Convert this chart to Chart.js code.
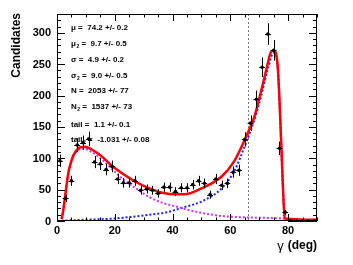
<!DOCTYPE html>
<html>
<head>
<meta charset="utf-8">
<script src="https://cdn.jsdelivr.net/npm/chart.js@4/dist/chart.umd.min.js"></script>
<style>
  html, body { margin: 0; padding: 0; background: #fff; }
  #plot { display: block; }
</style>
</head>
<body>
<canvas id="plot" width="353" height="265"></canvas>
<script>
// histogram bins (bin width 2 deg)
const binCenters = [1, 3, 5, 7, 9, 11, 13, 15, 17, 19, 21, 23, 25, 27, 29, 31, 33, 35, 37, 39, 41, 43, 45,
  47, 49, 51, 53, 55, 57, 59, 61, 63, 65, 67, 69, 71, 73, 75, 77, 79, 81, 83, 85, 87, 89];
const counts = [96, 36, 64, 121, 125, 131, 94, 91, 82, 87, 67, 61, 61, 64, 49, 51, 49, 44, 54, 54, 47, 53, 53,
  58, 64, 60, 42, 67, 57, 60, 78, 81, 130, 156, 194, 245, 298, 272, 116, 14, 0, 0, 0, 0, 0];

// fit curves
const totalX = [1.6, 2, 2.8, 3.9, 4.8, 5.7, 7.4, 9.5, 12, 15.5, 19, 22.5, 27, 32, 36.5, 41, 44, 50, 57,
  61.3, 65.4, 68.3, 70.6, 72.7, 74.1, 75, 76.4, 77.3, 78.2, 78.8, 90];
const totalY = [3, 12, 39, 76, 93, 105, 116, 118.5, 114, 103, 88, 76, 63, 52, 45, 42.5, 42.5, 52, 71,
  95, 134, 166, 206, 246, 270, 272, 246, 161, 55, 4, 2];
const lowX = [1.6, 2.8, 3.9, 5.7, 7.4, 9.5, 12, 15.5, 19, 22.5, 27, 32, 36.5, 42, 46, 50, 57, 64, 72, 79];
const lowY = [3, 38, 75, 103, 113, 115, 110, 98, 83, 68, 53, 38, 29, 22, 17, 13, 8, 6, 5, 4];
const peakX = [1.6, 10, 20, 32, 38, 44, 50, 57, 61.3, 65.4, 68.3, 70.6, 72.9, 74.7, 75.3, 76.4, 77.3, 78.2, 78.8];
const peakY = [0.5, 2, 4, 10, 14, 22, 31, 52, 79, 124, 161, 198, 241, 267, 268, 244, 160, 53, 3];

const xTicks = [0, 20, 40, 60, 80];
const yTicks = [0, 50, 100, 150, 200, 250, 300];
const cutLine = 66;

// fit results box: [symbol, subscript, value]
const fitNames = ["\u03bc", "\u03bc", "\u03c3", "\u03c3", "N", "N", "tail", "tail"];
const fitSubs = ["", "2", "", "2", "", "2", "", "2"];
const fitValues = ["74.2 +/- 0.2", "9.7 +/- 0.5", "4.9 +/- 0.2", "9.0 +/- 0.5",
  "2053 +/- 77", "1537 +/- 73", "1.1 +/- 0.1", "-1.031 +/- 0.08"];
const fitRows = [28, 44, 60, 76, 91, 107, 125, 140];

const pts = binCenters.map((x, i) => ({ x: x, y: counts[i] }));
const toXY = (xs, ys) => xs.map((x, i) => ({ x: x, y: ys[i] }));

const FONT = "'Liberation Sans', Arial, sans-serif";

const rootAxes = {
  id: "rootAxes",
  beforeDatasetsDraw(chart) {
    const { ctx, chartArea: a, scales: { x, y } } = chart;
    ctx.save();
    // dashed cut line
    ctx.strokeStyle = "#777";
    ctx.lineWidth = 1;
    ctx.setLineDash([2, 2]);
    const cx = Math.round(x.getPixelForValue(cutLine)) + 0.5;
    ctx.beginPath();
    ctx.moveTo(cx, a.top);
    ctx.lineTo(cx, a.bottom);
    ctx.stroke();
    ctx.restore();
  },
  afterDatasetsDraw(chart) {
    const { ctx, chartArea: a, scales: { x, y } } = chart;
    ctx.save();

    // error bars
    ctx.strokeStyle = "#000";
    ctx.lineWidth = 1;
    binCenters.forEach((bx, i) => {
      const v = counts[i];
      const e = Math.sqrt(v);
      const px = Math.round(x.getPixelForValue(bx)) + 0.5;
      const py = Math.round(y.getPixelForValue(v)) + 0.5;
      ctx.beginPath();
      ctx.moveTo(x.getPixelForValue(bx - 1), py);
      ctx.lineTo(x.getPixelForValue(bx + 1), py);
      if (e > 0) {
        ctx.moveTo(px, y.getPixelForValue(v + e));
        ctx.lineTo(px, Math.min(y.getPixelForValue(v - e), a.bottom));
      }
      ctx.stroke();
    });

    // frame
    ctx.strokeStyle = "#000";
    ctx.lineWidth = 1;
    ctx.strokeRect(a.left + 0.5, a.top + 0.5, a.right - a.left - 1, a.bottom - a.top - 1);

    // x ticks (bottom + top)
    ctx.beginPath();
    for (let v = 0; v <= 90; v += 5) {
      const px = Math.round(x.getPixelForValue(v)) + 0.5;
      const len = v % 20 === 0 ? 7 : 3.5;
      ctx.moveTo(px, a.bottom);
      ctx.lineTo(px, a.bottom - len);
      ctx.moveTo(px, a.top);
      ctx.lineTo(px, a.top + len);
    }
    // y ticks (left + right)
    for (let v = 0; v <= 330; v += 10) {
      const py = Math.round(y.getPixelForValue(v)) + 0.5;
      const len = v % 50 === 0 ? 8 : 4;
      ctx.moveTo(a.left, py);
      ctx.lineTo(a.left + len, py);
      ctx.moveTo(a.right, py);
      ctx.lineTo(a.right - len, py);
    }
    ctx.stroke();

    // tick labels
    ctx.fillStyle = "#000";
    ctx.font = "bold 11px " + FONT;
    ctx.textAlign = "center";
    ctx.textBaseline = "middle";
    xTicks.forEach(v => ctx.fillText(String(v), x.getPixelForValue(v), 231));
    ctx.textAlign = "right";
    yTicks.forEach(v => ctx.fillText(String(v), 51, y.getPixelForValue(v) + 0.5));

    // axis titles
    ctx.font = "bold 12px " + FONT;
    ctx.textAlign = "right";
    ctx.fillText("(deg)", a.right, 246);
    const dw = ctx.measureText("(deg)").width;
    ctx.font = "13px " + FONT;
    ctx.fillText("\u03b3", a.right - dw - 4, 246);

    ctx.save();
    ctx.translate(17, a.top - 1);
    ctx.rotate(-Math.PI / 2);
    ctx.font = "bold 12px " + FONT;
    ctx.textAlign = "right";
    ctx.textBaseline = "middle";
    ctx.fillText("Candidates", 0, 0);
    ctx.restore();

    // fit result text
    ctx.textAlign = "left";
    ctx.textBaseline = "middle";
    fitNames.forEach((nm, i) => {
      let tx = 71;
      const ty = fitRows[i];
      ctx.font = "bold 8px " + FONT;
      ctx.fillText(nm, tx, ty);
      tx += ctx.measureText(nm).width;
      if (fitSubs[i]) {
        ctx.font = "bold 5px " + FONT;
        ctx.fillText(fitSubs[i], tx + 0.5, ty + 3);
        tx += ctx.measureText(fitSubs[i]).width + 0.5;
      }
      ctx.font = "bold 8px " + FONT;
      ctx.fillText(" =  " + fitValues[i], tx, ty);
    });

    ctx.restore();
  }
};

new Chart(document.getElementById("plot"), {
  type: "scatter",
  data: {
    datasets: [
      {
        data: pts,
        pointRadius: 1.8,
        pointBackgroundColor: "#000",
        pointBorderWidth: 0,
        showLine: false,
      },
      {
        data: toXY(totalX, totalY),
        showLine: true,
        pointRadius: 0,
        borderColor: "#ff0000",
        borderWidth: 2.5,
        cubicInterpolationMode: "monotone",
      },
      {
        data: toXY(lowX, lowY),
        showLine: true,
        pointRadius: 0,
        borderColor: "#cc33ff",
        borderWidth: 2,
        borderDash: [2, 2],
        cubicInterpolationMode: "monotone",
      },
      {
        data: toXY(peakX, peakY),
        showLine: true,
        pointRadius: 0,
        borderColor: "#2020ff",
        borderWidth: 2,
        borderDash: [2, 2],
        cubicInterpolationMode: "monotone",
      },
    ],
  },
  options: {
    responsive: false,
    animation: false,
    devicePixelRatio: 1,
    layout: { padding: { left: 57, right: 36, top: 14, bottom: 44 } },
    plugins: { legend: { display: false }, tooltip: { enabled: false } },
    scales: {
      x: { type: "linear", min: 0, max: 90, display: false },
      y: { type: "linear", min: 0, max: 330, display: false },
    },
  },
  plugins: [rootAxes],
});
</script>
</body>
</html>
